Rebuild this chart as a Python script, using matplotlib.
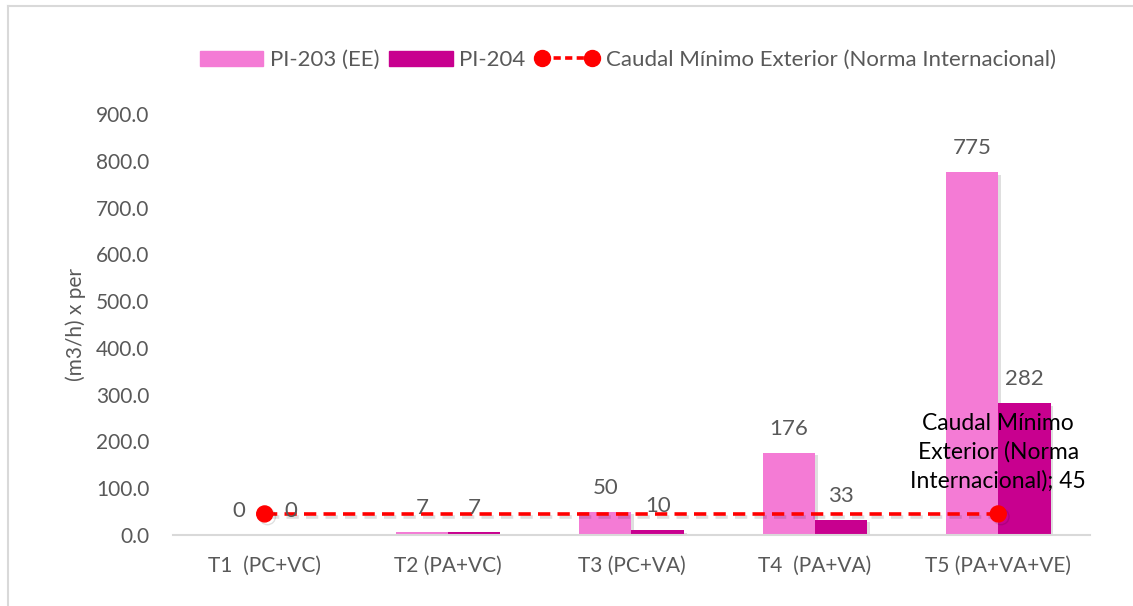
import numpy as np
import matplotlib
matplotlib.use("Agg")
import matplotlib.pyplot as plt
import matplotlib.patheffects as pe
from matplotlib.lines import Line2D

plt.rcParams['font.family'] = ['Lato', 'DejaVu Sans']

categories = ["T1  (PC+VC)", "T2 (PA+VC)", "T3 (PC+VA)", "T4  (PA+VA)", "T5 (PA+VA+VE)"]
pi203 = [0, 7, 50, 176, 775]
pi204 = [0, 7, 10, 33, 282]
caudal_min = [45, None, None, None, 45]
yticks = [0, 100, 200, 300, 400, 500, 600, 700, 800, 900]
series_names = ["PI-203 (EE)", "PI-204", "Caudal Mínimo Exterior (Norma Internacional)"]

pink = "#F47BD5"
purple = "#C8008F"
red = "#FF0000"
gray_text = "#595959"
FS_TICK = 15
FS_LAB = 16
FS_LEG = 16
FS_ANN = 16.5

fig = plt.figure(figsize=(11.33, 6.06), dpi=100)
ax = fig.add_axes([0.1527, 0.1172, 0.8093, 0.6947])

x = np.arange(len(categories))
w = 0.285
shadow = [pe.SimplePatchShadow(offset=(2, -2), alpha=0.25, shadow_rgbFace="#808080"), pe.Normal()]
b1 = ax.bar(x - w / 2, pi203, w, color=pink, label=series_names[0], zorder=2)
b2 = ax.bar(x + w / 2, pi204, w, color=purple, label=series_names[1], zorder=2)
for b in list(b1) + list(b2):
    b.set_path_effects(shadow)

for xi, v in zip(x, pi203):
    ax.annotate(f"{v:.0f}", (xi - w / 2, v), xytext=(0, 24), textcoords="offset pixels",
                ha="center", va="center", fontsize=FS_LAB, color=gray_text, zorder=5)
for xi, v in zip(x, pi204):
    ax.annotate(f"{v:.0f}", (xi + w / 2, v), xytext=(0, 24), textcoords="offset pixels",
                ha="center", va="center", fontsize=FS_LAB, color=gray_text, zorder=5)

lx = [xi for xi, v in zip(x, caudal_min) if v is not None]
ly = [v for v in caudal_min if v is not None]
ax.plot(lx, ly, color=red, linestyle=(0, (3.4, 2)), linewidth=2.6, marker="o",
        markersize=11.5, markerfacecolor=red, markeredgecolor=red, zorder=4,
        label=series_names[2],
        path_effects=[pe.SimpleLineShadow(offset=(2, -2), alpha=0.12), pe.Normal()])

ax.annotate("Caudal Mínimo\nExterior (Norma\nInternacional); 45", (lx[-1], ly[-1]),
            xytext=(0, 62), textcoords="offset pixels", ha="center", va="center",
            fontsize=FS_ANN, color="black", linespacing=1.41, zorder=6)

ax.set_xlim(-0.5, len(categories) - 0.5)
ax.set_ylim(0, 900)
ax.set_yticks(yticks)
ax.set_yticklabels([f"{t:.1f}" for t in yticks])
ax.set_xticks(x)
ax.set_xticklabels(categories)
ax.tick_params(axis="both", length=0, labelsize=FS_TICK, labelcolor=gray_text)
ax.tick_params(axis="y", pad=17)
ax.tick_params(axis="x", pad=15)
for s in ["top", "right", "left"]:
    ax.spines[s].set_visible(False)
ax.spines["bottom"].set_color("#D9D9D9")
ax.spines["bottom"].set_linewidth(1.5)
ax.set_ylabel("(m3/h) x per", fontsize=FS_TICK, color=gray_text, labelpad=7)

handles = [plt.Rectangle((0, 0), 1, 1, color=pink), plt.Rectangle((0, 0), 1, 1, color=purple),
           Line2D([0], [0], color=red, linestyle=(0, (2, 1.2)), linewidth=2.6, marker="o",
                  markersize=11.5, markerfacecolor=red, markeredgecolor=red)]
leg = fig.legend(handles, series_names, loc="center", bbox_to_anchor=(0.554, 0.901),
                 ncol=3, frameon=False, fontsize=FS_LEG, handlelength=2.85, handleheight=0.65,
                 handletextpad=0.3, columnspacing=0.45, numpoints=2, borderaxespad=0)
for t in leg.get_texts():
    t.set_color(gray_text)

# figure border (left and top visible)
fig.add_artist(Line2D([8 / 1133, 8 / 1133], [0, 1 - 6 / 606], transform=fig.transFigure,
                      color="#D9D9D9", linewidth=1.5))
fig.add_artist(Line2D([8 / 1133, 1], [1 - 6 / 606, 1 - 6 / 606], transform=fig.transFigure,
                      color="#D9D9D9", linewidth=1.5))

fig.savefig("out.png", dpi=100)
